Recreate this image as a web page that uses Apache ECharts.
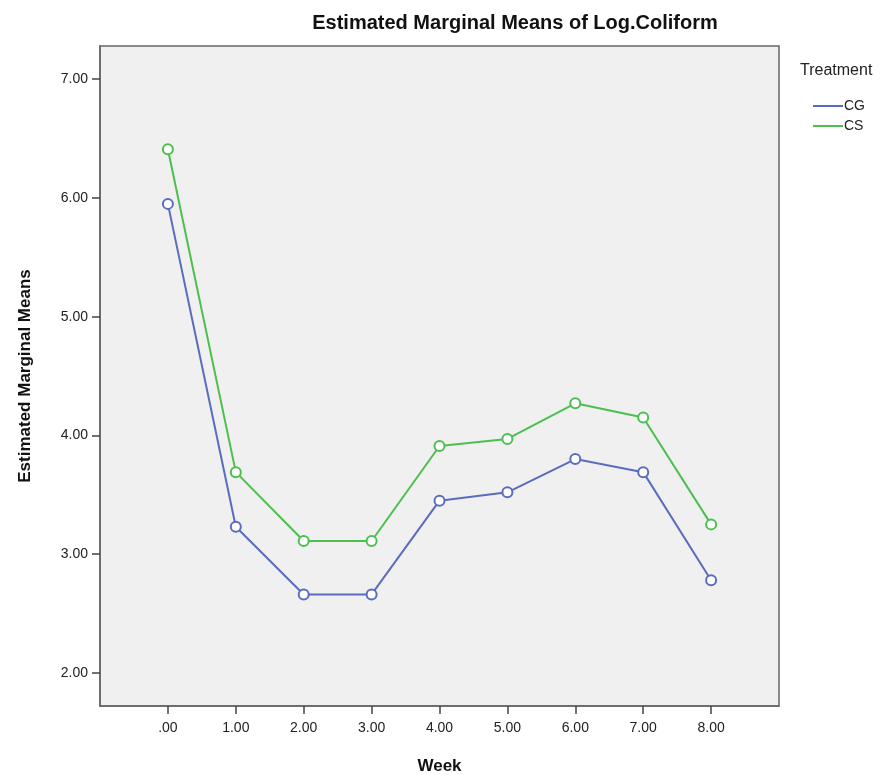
<!DOCTYPE html>
<html>
<head>
<meta charset="utf-8">
<script src="https://cdn.jsdelivr.net/npm/echarts@6/dist/echarts.min.js"></script>
<style>
  html, body { margin: 0; padding: 0; background: #fff; }
  #chart { width: 893px; height: 775px; }
</style>
</head>
<body>
<div id="chart"></div>
<script>
// weeks and the two treatment groups
var weeks = [0, 1, 2, 3, 4, 5, 6, 7, 8];
var cgMeans = [5.95, 3.23, 2.66, 2.66, 3.45, 3.52, 3.80, 3.69, 2.78];
var csMeans = [6.41, 3.69, 3.11, 3.11, 3.91, 3.97, 4.27, 4.15, 3.25];
var yTicks = [2, 3, 4, 5, 6, 7];

var fmt = function (v) {
    return v === 0 ? '.00' : v.toFixed(2);
};

var pairs = function (vals) {
    return weeks.map(function (w, i) { return [w, vals[i]]; });
};

var chart = echarts.init(document.getElementById('chart'));

var option = {
    backgroundColor: '#fff',
    animation: false,
    title: [{
        text: 'Estimated Marginal Means of Log.Coliform',
        left: 510,
        top: 8,
        textAlign: 'center',
        textStyle: { fontFamily: 'Liberation Sans', fontSize: 20, fontWeight: 'bold', color: '#111' }
    }, {
        text: 'Treatment',
        left: 795,
        top: 58,
        textStyle: { fontFamily: 'Liberation Sans', fontSize: 16, fontWeight: 'normal', color: '#222' }
    }],
    legend: {
        orient: 'vertical',
        left: 808,
        top: 94,
        itemGap: 6,
        itemWidth: 30,
        itemHeight: 2,
        icon: 'rect',
        textStyle: { fontFamily: 'Liberation Sans', fontSize: 14, color: '#222', padding: [0, 0, 0, -4] },
        data: ['CG', 'CS']
    },
    grid: {
        left: 100,
        top: 46,
        right: 114,
        bottom: 69,
        outerBoundsMode: 'none',
        show: true,
        backgroundColor: '#f0f0f0',
        borderColor: '#666',
        borderWidth: 1.5
    },
    xAxis: {
        type: 'value',
        min: -1,
        max: 9,
        name: 'Week',
        nameLocation: 'middle',
        nameGap: 52,
        nameTextStyle: { fontFamily: 'Liberation Sans', fontSize: 17, fontWeight: 'bold', color: '#111' },
        axisLine: { onZero: false, lineStyle: { color: '#666', width: 1.5 } },
        axisTick: { show: true, length: 8, lineStyle: { color: '#444', width: 1.5 }, customValues: weeks },
        axisLabel: { customValues: weeks, formatter: fmt, margin: 15, fontFamily: 'Liberation Sans', fontSize: 14, color: '#222' },
        splitLine: { show: false }
    },
    yAxis: {
        type: 'value',
        min: 1.72,
        max: 7.28,
        name: 'Estimated Marginal Means',
        nameLocation: 'middle',
        nameGap: 66,
        nameTextStyle: { fontFamily: 'Liberation Sans', fontSize: 17, fontWeight: 'bold', color: '#111' },
        axisLine: { show: true, onZero: false, lineStyle: { color: '#666', width: 1.5 } },
        axisTick: { show: true, length: 8, lineStyle: { color: '#444', width: 1.5 }, customValues: yTicks },
        axisLabel: { customValues: yTicks, formatter: fmt, margin: 12, fontFamily: 'Liberation Sans', fontSize: 14, color: '#222' },
        splitLine: { show: false }
    },
    series: [{
        name: 'CG',
        type: 'line',
        data: pairs(cgMeans),
        symbol: 'emptyCircle',
        symbolSize: 10,
        color: '#5a6cbd',
        lineStyle: { width: 2 },
        itemStyle: { borderWidth: 1.5 }
    }, {
        name: 'CS',
        type: 'line',
        data: pairs(csMeans),
        symbol: 'emptyCircle',
        symbolSize: 10,
        color: '#4cbf4f',
        lineStyle: { width: 2 },
        itemStyle: { borderWidth: 1.5 }
    }]
};
chart.setOption(option);
</script>
</body>
</html>
